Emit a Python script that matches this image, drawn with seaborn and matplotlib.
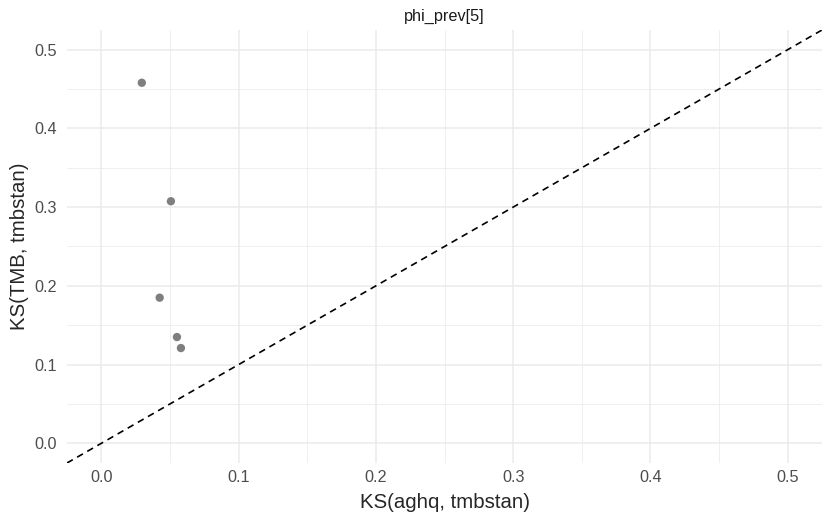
import numpy as np
import pandas as pd
import matplotlib
matplotlib.use("Agg")
import matplotlib.pyplot as plt
import seaborn as sns
from matplotlib.ticker import MultipleLocator

# KS distances
ks_aghq = [0.0295, 0.0507, 0.0425, 0.0551, 0.0580]
ks_tmb = [0.458, 0.3075, 0.185, 0.135, 0.121]
ticks = [0.0, 0.1, 0.2, 0.3, 0.4, 0.5]

data = pd.DataFrame({'aghq': ks_aghq, 'tmb': ks_tmb})

sns.set_style('white')
plt.rcParams['font.family'] = ['Liberation Sans', 'DejaVu Sans']

fig = plt.figure(figsize=(8.24, 5.13), dpi=100)
ax = fig.add_axes([67/824, 50/513, 755/824, 433/513])

sns.scatterplot(x='aghq', y='tmb', data=data, color='#7f7f7f', s=36,
                edgecolor='none', ax=ax, zorder=3)
ax.axline((0, 0), slope=1, color='black', linestyle=(0, (4, 3)), linewidth=1.2, zorder=2)

ax.set_xlim(-0.025, 0.525)
ax.set_ylim(-0.025, 0.525)
ax.set_xticks(ticks)
ax.set_yticks(ticks)
ax.set_xticklabels([f'{t:.1f}' for t in ticks])
ax.set_yticklabels([f'{t:.1f}' for t in ticks])
ax.xaxis.set_minor_locator(MultipleLocator(0.05))
ax.yaxis.set_minor_locator(MultipleLocator(0.05))
ax.grid(which='major', color='#ebebeb', linewidth=1.1)
ax.grid(which='minor', color='#ebebeb', linewidth=0.55)
ax.set_axisbelow(True)
for s in ax.spines.values():
    s.set_visible(False)
ax.tick_params(which='both', length=0, labelsize=11.7, labelcolor='#4d4d4d')
ax.tick_params(axis='x', pad=5.3)
ax.tick_params(axis='y', pad=7.2)

ax.set_xlabel('KS(aghq, tmbstan)', fontsize=14.7, va='baseline')
ax.xaxis.set_label_coords(0.5, (463 - 508) / 433)
ax.set_ylabel('KS(TMB, tmbstan)', fontsize=14.7)
ax.yaxis.set_label_coords((29.3 - 67) / 755, 0.5)
ax.set_title('phi_prev[5]', fontsize=11.7, color='#1a1a1a', y=(463 - 21) / 433,
             va='baseline', pad=0)

plt.savefig('out.png', dpi=100)
